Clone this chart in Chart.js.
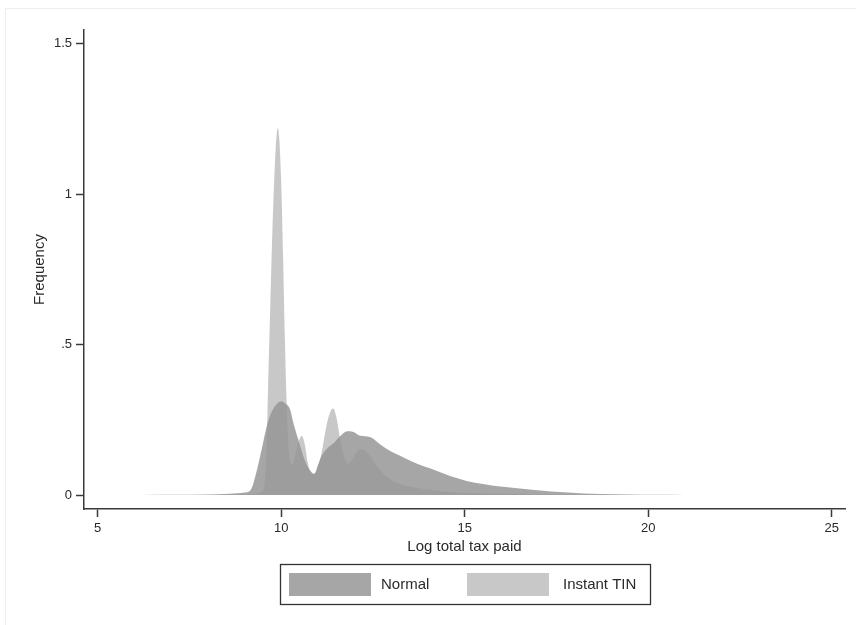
<!DOCTYPE html>
<html>
<head>
<meta charset="utf-8">
<script src="https://cdn.jsdelivr.net/npm/chart.js@4/dist/chart.umd.min.js"></script>
<style>
  html, body { margin: 0; padding: 0; background: #ffffff; }
  #wrap { width: 856px; height: 625px; position: relative; }
</style>
</head>
<body>
<div id="wrap"><canvas id="c" width="856" height="625"></canvas></div>
<script>
// Kernel density of log total tax paid, by registration type
const normalX = [6.2, 7, 8, 8.6, 9.0, 9.15, 9.22, 9.3, 9.4, 9.5, 9.6, 9.7, 9.8, 9.9, 10.0, 10.1, 10.24, 10.33, 10.45, 10.6, 10.7, 10.8, 10.9, 11.0, 11.1, 11.25, 11.45, 11.6, 11.8, 11.95, 12.15, 12.42, 12.7, 12.97, 13.33, 13.7, 14.14, 14.6, 15.05, 15.5, 15.97, 16.9, 17.8, 18.7, 19.5, 20.2, 21];
const normalY = [0.0003, 0.001, 0.002, 0.004, 0.008, 0.014, 0.03, 0.065, 0.115, 0.17, 0.225, 0.265, 0.29, 0.305, 0.312, 0.305, 0.285, 0.24, 0.19, 0.13, 0.1, 0.08, 0.07, 0.1, 0.13, 0.155, 0.175, 0.195, 0.212, 0.21, 0.197, 0.193, 0.168, 0.146, 0.125, 0.104, 0.085, 0.063, 0.047, 0.037, 0.028, 0.017, 0.008, 0.003, 0.0015, 0.0007, 0];

const tinX = [7.5, 8.5, 9.2, 9.45, 9.55, 9.6, 9.64, 9.7, 9.76, 9.82, 9.87, 9.91, 9.95, 10.0, 10.05, 10.1, 10.15, 10.2, 10.28, 10.38, 10.48, 10.56, 10.64, 10.72, 10.82, 10.95, 11.1, 11.25, 11.35, 11.42, 11.5, 11.6, 11.7, 11.82, 11.95, 12.1, 12.2, 12.35, 12.5, 12.65, 12.8, 13.0, 13.25, 13.5, 13.75, 14.0, 14.5, 15, 16, 17, 18.5];
const tinY = [0, 0.001, 0.003, 0.01, 0.04, 0.15, 0.35, 0.62, 0.88, 1.08, 1.19, 1.22, 1.18, 1.04, 0.8, 0.52, 0.3, 0.16, 0.1, 0.13, 0.18, 0.196, 0.17, 0.11, 0.07, 0.075, 0.14, 0.24, 0.28, 0.288, 0.26, 0.19, 0.13, 0.105, 0.12, 0.15, 0.152, 0.14, 0.115, 0.09, 0.07, 0.05, 0.036, 0.028, 0.022, 0.018, 0.011, 0.007, 0.004, 0.002, 0];

const seriesNames = ['Normal', 'Instant TIN'];
const xTicks = [5, 10, 15, 20, 25];
const yTicks = [0, 0.5, 1, 1.5];

const normalFill = 'rgba(90,90,90,0.54)';
const tinFill = 'rgba(150,150,150,0.52)';
const legendNormal = '#a6a6a6';
const legendTin = '#c8c8c8';
const axisColor = '#3a3a3a';
const textColor = '#2a2a2a';
const fontFamily = '"Liberation Sans", Arial, Helvetica, sans-serif';

const toPoints = (xs, ys) => xs.map((x, i) => ({ x: x, y: ys[i] }));

// Faint outer frame of the graph region
const framePlugin = {
  id: 'frame',
  beforeDraw(chart) {
    const ctx = chart.ctx;
    ctx.save();
    ctx.fillStyle = '#ffffff';
    ctx.fillRect(0, 0, chart.width, chart.height);
    ctx.strokeStyle = '#eeeeee';
    ctx.lineWidth = 1;
    ctx.beginPath();
    ctx.moveTo(5.5, chart.height);
    ctx.lineTo(5.5, 8.5);
    ctx.lineTo(chart.width, 8.5);
    ctx.stroke();
    ctx.restore();
  }
};

// Boxed legend beneath the x-axis title
const boxLegendPlugin = {
  id: 'boxLegend',
  afterDraw(chart) {
    const ctx = chart.ctx;
    const fills = [legendNormal, legendTin];
    const box = { x: 280.5, y: 564.5, w: 370, h: 40 };
    ctx.save();
    ctx.strokeStyle = '#333333';
    ctx.lineWidth = 1.3;
    ctx.strokeRect(box.x, box.y, box.w, box.h);
    const swatchX = [289, 467];
    const textX = [381, 563];
    ctx.font = '15px ' + fontFamily;
    ctx.textBaseline = 'middle';
    ctx.textAlign = 'left';
    chart.data.datasets.forEach((ds, i) => {
      ctx.fillStyle = fills[i];
      ctx.fillRect(swatchX[i], 573, 82, 23);
      ctx.fillStyle = textColor;
      ctx.fillText(ds.label, textX[i], 585);
    });
    ctx.restore();
  }
};

const fmtY = v => (v === 0 ? '0' : String(v).replace(/^0\./, '.'));

new Chart(document.getElementById('c'), {
  type: 'line',
  data: {
    datasets: [
      {
        label: seriesNames[0],
        data: toPoints(normalX, normalY),
        backgroundColor: normalFill,
        borderColor: 'rgba(0,0,0,0)',
        borderWidth: 0,
        fill: 'origin',
        pointRadius: 0,
        cubicInterpolationMode: 'monotone',
        order: 2
      },
      {
        label: seriesNames[1],
        data: toPoints(tinX, tinY),
        backgroundColor: tinFill,
        borderColor: 'rgba(0,0,0,0)',
        borderWidth: 0,
        fill: 'origin',
        pointRadius: 0,
        cubicInterpolationMode: 'monotone',
        order: 1
      }
    ]
  },
  options: {
    responsive: false,
    animation: false,
    devicePixelRatio: 1,
    layout: { padding: { left: 0, top: 30, right: 11, bottom: 66 } },
    plugins: {
      legend: { display: false },
      tooltip: { enabled: false }
    },
    scales: {
      x: {
        type: 'linear',
        min: 4.627,
        max: 25.36,
        afterFit: s => { s.height = 50; },
        afterBuildTicks: s => { s.ticks = xTicks.map(v => ({ value: v })); },
        border: { display: true, color: axisColor, width: 1.5 },
        grid: { drawOnChartArea: false, drawTicks: true, tickLength: 8, tickColor: axisColor, tickWidth: 1.5 },
        ticks: { color: textColor, font: { family: fontFamily, size: 13 }, padding: 4, maxRotation: 0 },
        title: {
          display: true,
          text: 'Log total tax paid',
          color: textColor,
          font: { family: fontFamily, size: 15 },
          padding: { top: 0, bottom: 3 }
        }
      },
      y: {
        type: 'linear',
        min: -0.0465,
        max: 1.546,
        afterFit: s => { s.width = 84; },
        afterBuildTicks: s => { s.ticks = yTicks.map(v => ({ value: v })); },
        border: { display: true, color: axisColor, width: 1.5 },
        grid: { drawOnChartArea: false, drawTicks: true, tickLength: 8, tickColor: axisColor, tickWidth: 1.5 },
        ticks: { color: textColor, font: { family: fontFamily, size: 13 }, padding: 4, callback: v => fmtY(v) },
        title: {
          display: true,
          text: 'Frequency',
          color: textColor,
          font: { family: fontFamily, size: 15 },
          padding: { top: 31, bottom: 0 }
        }
      }
    }
  },
  plugins: [framePlugin, boxLegendPlugin]
});
</script>
</body>
</html>
